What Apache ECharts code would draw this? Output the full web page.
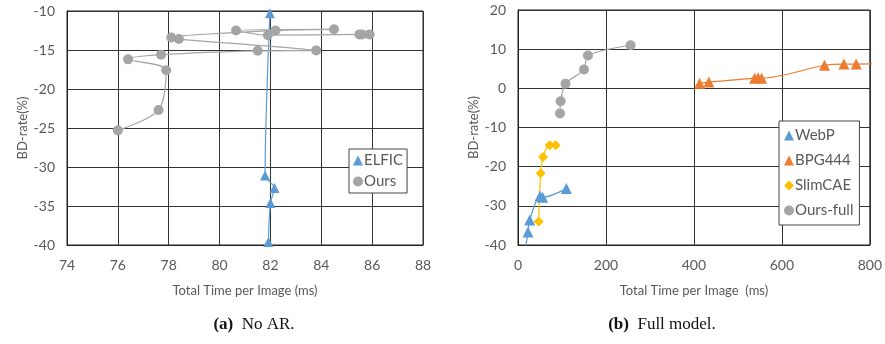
<!DOCTYPE html>
<html><head><meta charset="utf-8">
<script src="https://cdn.jsdelivr.net/npm/echarts@6/dist/echarts.min.js"></script>
<style>html,body{margin:0;padding:0;background:#fff}#c{width:885px;height:344px}</style>
</head><body><div id="c"></div>
<script>
// ---- Chart (a): No AR ----
const elficX = [81.98, 81.79, 82.16, 82.0, 81.92];
const elficY = [-10.3, -31.1, -32.7, -34.6, -39.6];
const oursX = [76.0, 77.6, 77.9, 76.4, 77.7, 81.5, 83.8, 78.4, 78.1, 82.2, 84.5, 80.65, 81.9, 85.5, 85.6, 85.9];
const oursY = [-25.3, -22.7, -17.6, -16.2, -15.6, -15.1, -15.05, -13.6, -13.4, -12.5, -12.35, -12.5, -13.1, -13.0, -13.0, -13.0];
const leftXTicks = [74, 76, 78, 80, 82, 84, 86, 88];
const leftYTicks = [-40, -35, -30, -25, -20, -15, -10];

// ---- Chart (b): Full model ----
const webpX = [110, 56, 50, 26.6, 22.7, 15];
const webpY = [-25.6, -27.8, -27.5, -33.6, -36.7, -42.5];
const bpgX = [413, 434, 538, 546, 554, 697, 741, 769, 850];
const bpgY = [1.3, 1.6, 2.6, 2.7, 2.6, 5.9, 6.2, 6.2, 6.3];
const slimX = [47, 51.6, 57, 72, 85.7];
const slimY = [-34.0, -21.7, -17.5, -14.5, -14.5];
const oursFullX = [256, 159, 150, 108, 97, 95.5];
const oursFullY = [11.0, 8.4, 4.8, 1.2, -3.3, -6.4];
const rightXTicks = [0, 200, 400, 600, 800];
const rightYTicks = [-40, -30, -20, -10, 0, 10, 20];

const zip = (a, b) => a.map((v, i) => [v, b[i]]);
const FONT = 'Lato';
const GRAY = '#595959';
const C = {blue:'#5B9BD5', orange:'#ED7D31', gold:'#FFC000', gray:'#A5A5A5'};

function xAxis(gi, ticks, name){
  return {
    type:'value', gridIndex: gi, min: ticks[0], max: ticks[ticks.length-1],
    interval: ticks[1]-ticks[0],
    axisLine:{show:true, onZero:false, lineStyle:{color:'#222', width:1}},
    axisTick:{show:false},
    axisLabel:{color:GRAY, fontFamily:FONT, fontSize:14, margin:13},
    splitLine:{show:true, lineStyle:{color:'#333', width:1}},
    name, nameLocation:'middle', nameGap:39,
    nameTextStyle:{color:GRAY, fontFamily:FONT, fontSize:13}
  };
}
function yAxis(gi, ticks, name){
  return {
    type:'value', gridIndex: gi, min: ticks[0], max: ticks[ticks.length-1],
    interval: ticks[1]-ticks[0],
    axisLine:{show:true, onZero:false, lineStyle:{color:'#222', width:1}},
    axisTick:{show:false},
    axisLabel:{color:GRAY, fontFamily:FONT, fontSize:14, margin:12},
    splitLine:{show:true, lineStyle:{color:'#333', width:1}},
    name, nameLocation:'middle', nameGap:38, nameRotate:90,
    nameTextStyle:{color:GRAY, fontFamily:FONT, fontSize:13}
  };
}
function ser(name, xi, data, color, symbol, size){
  return {
    name, type:'line', xAxisIndex:xi, yAxisIndex:xi, data,
    smooth:0.3, symbol, symbolSize:size, clip:true,
    lineStyle:{color, width:1.2}, itemStyle:{color},
    emphasis:{disabled:true}, animation:false
  };
}
const capRich = {b:{fontWeight:'bold', fontFamily:'Liberation Serif', fontSize:17, fill:'#111'},
                 n:{fontFamily:'Liberation Serif', fontSize:17, fill:'#111'}};

const chart = echarts.init(document.getElementById('c'), null, {renderer:'canvas'});
chart.setOption({
  animation:false,
  backgroundColor:'#fff',
  grid:[
    {left:67, right:462, top:11, bottom:99, show:true, borderColor:'#222', borderWidth:1},
    {left:518, right:15, top:10, bottom:99, show:true, borderColor:'#222', borderWidth:1}
  ],
  xAxis:[xAxis(0, leftXTicks, 'Total Time per Image (ms)'), xAxis(1, rightXTicks, 'Total Time per Image  (ms)')],
  yAxis:[yAxis(0, leftYTicks, 'BD-rate(%)'), yAxis(1, rightYTicks, 'BD-rate(%)')],
  legend:[
    {left:349, top:149, orient:'vertical', padding:[4,4,4,4], itemGap:6,
     itemWidth:10, itemHeight:10, backgroundColor:'#fff', borderColor:'#444', borderWidth:1,
     textStyle:{color:GRAY, fontFamily:FONT, fontSize:15, padding:[0,0,0,-4]},
     data:[{name:'ELFIC', icon:'triangle'}, {name:'Ours', icon:'circle'}]},
    {left:779, top:121, orient:'vertical', padding:[7,6,7,5], itemGap:10,
     itemWidth:10, itemHeight:10, backgroundColor:'#fff', borderColor:'#444', borderWidth:1,
     textStyle:{color:GRAY, fontFamily:FONT, fontSize:15, padding:[0,0,0,-4]},
     data:[{name:'WebP', icon:'triangle'}, {name:'BPG444', icon:'triangle'},
           {name:'SlimCAE', icon:'diamond'}, {name:'Ours-full', icon:'circle'}]}
  ],
  series:[
    ser('ELFIC', 0, zip(elficX, elficY), C.blue, 'triangle', 10),
    ser('Ours', 0, zip(oursX, oursY), C.gray, 'circle', 10),
    ser('WebP', 1, zip(webpX, webpY), C.blue, 'triangle', 11),
    ser('BPG444', 1, zip(bpgX, bpgY), C.orange, 'triangle', 11),
    ser('SlimCAE', 1, zip(slimX, slimY), C.gold, 'diamond', 10),
    ser('Ours-full', 1, zip(oursFullX, oursFullY), C.gray, 'circle', 10)
  ],
  graphic:[
    {type:'text', x:254, y:325, style:{
      text:'{b|(a)}{n|  No AR.}', align:'center', verticalAlign:'middle', rich:capRich}},
    {type:'text', x:662, y:325, style:{
      text:'{b|(b)}{n|  Full model.}', align:'center', verticalAlign:'middle', rich:capRich}}
  ]
});
</script></body></html>
